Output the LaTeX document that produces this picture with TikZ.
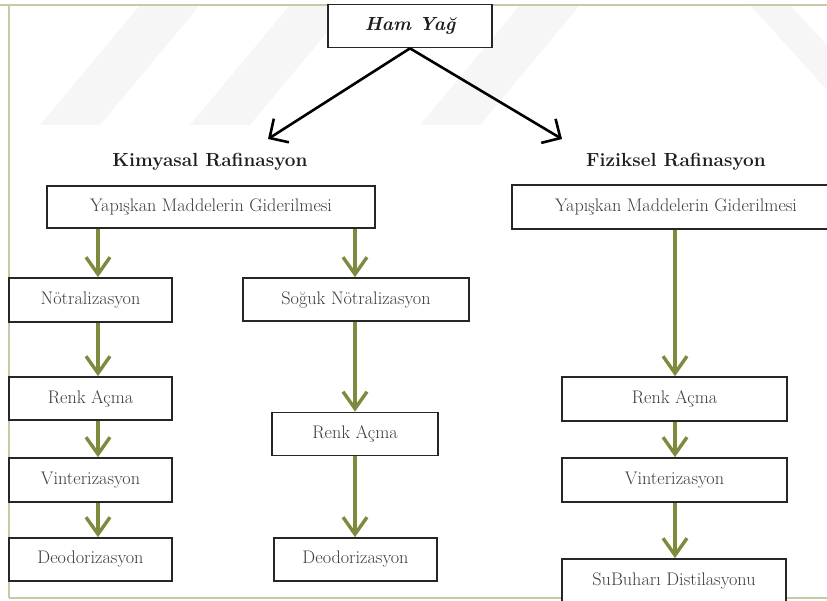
\documentclass[tikz,border=0pt]{standalone}
\usetikzlibrary{arrows.meta}
\definecolor{frameol}{RGB}{200,202,165}
\definecolor{arrowol}{RGB}{128,138,62}
\definecolor{boxtext}{RGB}{60,60,60}
\definecolor{headtext}{RGB}{30,30,30}
\definecolor{wmark}{RGB}{246,246,246}
\tikzset{
  stepbox/.style={draw=black!85, line width=1.7pt, fill=white, inner sep=0pt,
    text=boxtext, font=\fontsize{18.2}{21}\selectfont},
  headtitle/.style={inner sep=0pt, text=headtext, font=\fontsize{19}{22}\selectfont\bfseries},
  garrow/.style={draw=arrowol, line width=3.4pt,
    -{Straight Barb[length=17pt,width=24pt,line width=3.4pt]}},
  barrow/.style={draw=black, line width=2.6pt,
    -{Straight Barb[length=14pt,width=28pt,line width=2.6pt]}},
  frameline/.style={draw=frameol, line width=2pt},
  wm/.style={fill=wmark, draw=none}
}
\begin{document}
\begin{tikzpicture}[x=1pt,y=-1pt]
\useasboundingbox (0,0) rectangle (827,601);
\clip (0,0) rectangle (827,601);
% faint watermark bands
\fill[wm] (40,125) -- (100,125) -- (200,5) -- (140,5) -- cycle;
\fill[wm] (190,125) -- (250,125) -- (350,5) -- (290,5) -- cycle;
\fill[wm] (420,125) -- (480,125) -- (580,5) -- (520,5) -- cycle;
\fill[wm] (750,5) -- (790,5) -- (827,45) -- (827,90) -- cycle;
% frame
\draw[frameline] (0,5) -- (827,5);
\draw[frameline] (9,5) -- (9,598);
\draw[frameline] (9,598) -- (827,598);
% top
\node[stepbox, minimum width=164pt, minimum height=43pt,
  font=\fontsize{19}{22}\selectfont\bfseries\itshape, text=headtext] (ham) at (410,26) {Ham Yağ};
\node[headtitle] (kim) at (210,162) {Kimyasal Rafinasyon};
\node[headtitle] (fiz) at (676,162) {Fiziksel Rafinasyon};
\coordinate (tipL) at (268,139);
\coordinate (tipR) at (562,139);
\draw[barrow] (ham.south) -- (tipL);
\draw[barrow] (ham.south) -- (tipR);
% boxes
\node[stepbox, minimum width=328pt, minimum height=42pt] (yapL) at (211,207) {Yapışkan Maddelerin Giderilmesi};
\node[stepbox, minimum width=328pt, minimum height=44pt] (yapR) at (676,207) {Yapışkan Maddelerin Giderilmesi};
\node[stepbox, minimum width=163pt, minimum height=44pt] (notr) at (90.5,300) {Nötralizasyon};
\node[stepbox, minimum width=226pt, minimum height=43pt] (soguk) at (356,299.5) {Soğuk Nötralizasyon};
\node[stepbox, minimum width=163pt, minimum height=43pt] (renkL) at (90.5,398.5) {Renk Açma};
\node[stepbox, minimum width=163pt, minimum height=44pt] (vintL) at (90.5,480) {Vinterizasyon};
\node[stepbox, minimum width=163pt, minimum height=43pt] (deoL) at (90.5,559.5) {Deodorizasyon};
\node[stepbox, minimum width=166pt, minimum height=43pt] (renkM) at (355,434) {Renk Açma};
\node[stepbox, minimum width=163pt, minimum height=43pt] (deoM) at (355.5,559.5) {Deodorizasyon};
\node[stepbox, minimum width=225pt, minimum height=44pt] (renkR) at (674.5,399) {Renk Açma};
\node[stepbox, minimum width=225pt, minimum height=44pt] (vintR) at (674.5,480) {Vinterizasyon};
\node[stepbox, minimum width=224pt, minimum height=44pt, text height=12pt] (subu) at (674,581) {SuBuharı Distilasyonu};
% arrow columns
\coordinate (cL) at (98,0);
\coordinate (cM) at (355,0);
\coordinate (cR) at (675,0);
\draw[garrow] (yapL.south -| cL) -- (notr.north -| cL);
\draw[garrow] (notr.south -| cL) -- (renkL.north -| cL);
\draw[garrow] (renkL.south -| cL) -- (vintL.north -| cL);
\draw[garrow] (vintL.south -| cL) -- (deoL.north -| cL);
\draw[garrow] (yapL.south -| cM) -- (soguk.north -| cM);
\draw[garrow] (soguk.south -| cM) -- (renkM.north -| cM);
\draw[garrow] (renkM.south -| cM) -- (deoM.north -| cM);
\draw[garrow] (yapR.south -| cR) -- (renkR.north -| cR);
\draw[garrow] (renkR.south -| cR) -- (vintR.north -| cR);
\draw[garrow] (vintR.south -| cR) -- (subu.north -| cR);
\end{tikzpicture}
\end{document}
